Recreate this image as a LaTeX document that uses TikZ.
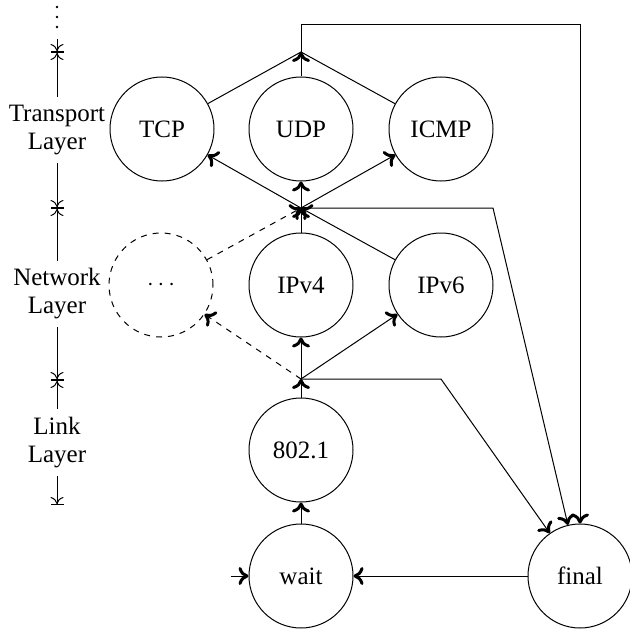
\documentclass[tikz,border=0pt]{standalone}
\usepackage{fontspec}
\setmainfont{Liberation Serif}
\usetikzlibrary{automata, arrows.meta, calc}
\tikzset{
  every state/.style={
    draw,
    line width=0.5pt,
    minimum size=52pt,
    inner sep=1pt,
    font=\fontsize{12.5}{14}\selectfont
  },
  initial text={},
  initial distance=9pt,
  every initial by arrow/.style={->},
  layerbar/.tip={Bar[width=6.5pt]},
  layertip/.tip={Computer Modern Rightarrow[width=6.5pt,length=3.5pt]},
  axis/.style={line width=0.5pt, {layerbar[]layertip[]}-{layertip[]layerbar[]}},
  axisend/.style={line width=0.5pt, -{layertip[]layerbar[]}},
  layertext/.style={
    fill=white,
    align=center,
    inner xsep=1pt,
    inner ysep=4pt,
    font=\fontsize{12.5}{14}\selectfont
  }
}

\begin{document}
\begin{tikzpicture}[x=0.5pt, y=-0.5pt, line width=0.5pt,
    >={Computer Modern Rightarrow[width=9pt,length=5pt,line width=1.5pt]}]
  \useasboundingbox (0,0) rectangle (629,631);

  % layer axis
  \foreach \y in {7,17,27} \fill (57,\y) circle (0.7pt);
  \coordinate (ltop) at (57,39);
  \coordinate (l0) at (57,52);
  \coordinate (l1) at (57,208);
  \coordinate (l2) at (57,380);
  \coordinate (l3) at (57,505);
  \draw[axisend] (ltop) -- (l0);
  \draw[axis] (l0) -- node[layertext]{Transport\\Layer} (l1);
  \draw[axis] (l1) -- node[layertext]{Network\\Layer} (l2);
  \draw[axis] (l2) -- node[layertext]{Link\\Layer} (l3);

  % protocols
  \node[state] (tcp) at (162,129) {TCP};
  \node[state] (udp) at (301,129) {UDP};
  \node[state] (icmp) at (441,129) {ICMP};
  \node[state, dashed] (more) at (161,285) {$\cdots$};
  \node[state] (ipv4) at (301,285) {IPv4};
  \node[state] (ipv6) at (441,285) {IPv6};
  \node[state] (link) at (301,450) {802.1};
  \node[state, initial] (wait) at (301,576) {wait};
  \node[state] (final) at (580,576) {final};

  \coordinate (tj) at (301,52);
  \coordinate (mj) at (301,208);
  \coordinate (bj) at (301,379);
  \coordinate (top) at (580,25);
  \coordinate (mbend) at (493,208);
  \coordinate (bbend) at (441,379);

  \draw[->] (udp) -- (tj);
  \draw (tcp) -- (tj) -- (icmp);
  \draw[->] (tj) |- (top) -- (final);

  \draw[->] (mj) -- (tcp);
  \draw[->] (mj) -- (udp);
  \draw[->] (mj) -- (icmp);
  \draw[->] (ipv4) -- (mj);
  \draw[->] (ipv6) -- (mj);
  \draw[->, dashed] (more) -- (mj);
  \draw[->] (mj) -- (mbend) -- (final);

  \draw[->] (bj) -- (ipv4);
  \draw[->] (bj) -- (ipv6);
  \draw[->, dashed] (bj) -- (more);
  \draw[->] (link) -- (bj);
  \draw[->] (bj) -- (bbend) -- (final);

  \draw[->] (wait) -- (link);
  \draw[->] (final) -- (wait);
\end{tikzpicture}
\end{document}
